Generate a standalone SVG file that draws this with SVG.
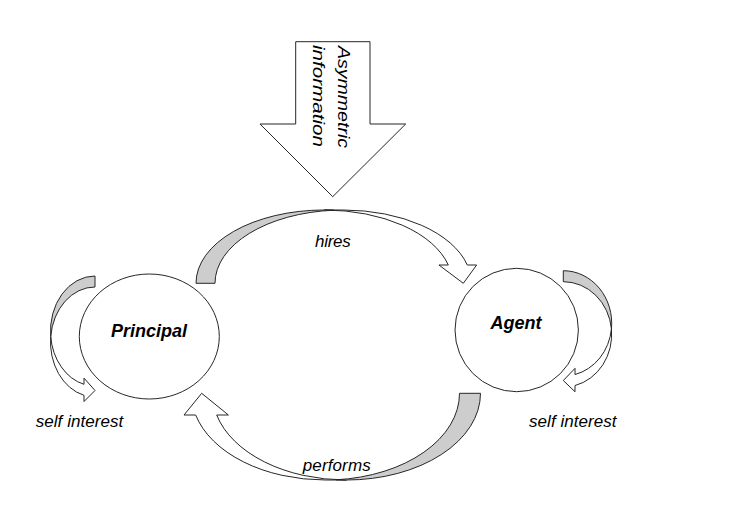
<svg xmlns="http://www.w3.org/2000/svg" width="743" height="518" viewBox="0 0 743 518">
<style>
.sh{stroke:#262626;stroke-width:1;stroke-linejoin:miter}
.w{fill:#ffffff}
.g{fill:#cdcdcd}
.lbl{font-family:"Liberation Sans",Arial,sans-serif;font-style:italic;font-size:17px;fill:#000}
.node{font-family:"Liberation Sans",Arial,sans-serif;font-style:italic;font-weight:bold;font-size:18px;fill:#000}
</style>
<rect width="743" height="518" fill="#ffffff"/>
<g id="asymmetric-information">
<path class="sh w" d="M295.7,41.7 L370,41.7 L370,124 L405.7,124 L332.7,196.7 L260,124 L295.7,124 Z"/>
<text class="lbl" font-size="20" transform="translate(338,46) rotate(90)" textLength="102" lengthAdjust="spacingAndGlyphs">Asymmetric</text>
<text class="lbl" font-size="20" transform="translate(313,45) rotate(90)" textLength="102" lengthAdjust="spacingAndGlyphs">information</text>
</g>
<g id="principal">
<ellipse class="sh w" cx="149.3" cy="336.5" rx="70" ry="62.5"/>
<text class="node" x="149" y="336.7" text-anchor="middle">Principal</text>
</g>
<g id="agent">
<circle class="sh w" cx="516.7" cy="330" r="61.7"/>
<text class="node" x="516" y="329" text-anchor="middle">Agent</text>
</g>
<g id="connectors">
<g id="hires">
<path class="sh w" d="M324.2,210 L343.2,210 A128.2,73.3 0 0 1 467.3,265 L476.65,265 L463.3,283.3 L438.95,265 L448.3,265 A128.2,73.3 0 0 0 324.2,210 Z"/>
<path class="sh g" d="M196,283.3 A128.2,73.3 0 0 1 324.2,210 L333.7,210.2 A128.2,73.3 0 0 0 215,283.3 Z"/>
<text class="lbl" x="315" y="247.3" textLength="35.7">hires</text>
</g>
<g id="performs">
<path class="sh w" d="M346.47,480 L325.47,480 A134.03,86.7 0 0 1 195.7,415 L184,415 L201.7,393.3 L228.4,415 L216.7,415 A134.03,86.7 0 0 0 346.47,480 Z"/>
<path class="sh g" d="M480.5,393.3 A134.03,86.7 0 0 1 346.47,480 L335.97,479.8 A134.03,86.7 0 0 0 459.5,393.3 Z"/>
<text class="lbl" x="302.7" y="470.7" textLength="68">performs</text>
</g>
<g id="self-interest-principal">
<path class="sh w" d="M50.72,336.5 A44.5,55 0 0 0 84,395.3 L84,401.5 L95,390.5 L84,378.1 L84,384.3 A44.5,55 0 0 1 50.72,336.5 Z"/>
<path class="sh g" d="M95,276 A44.5,55 0 0 0 50.72,336.5 A44.5,55 0 0 1 95,287 Z"/>
<text class="lbl" x="35.7" y="426.7" textLength="87.6">self interest</text>
</g>
<g id="self-interest-agent">
<path class="sh w" d="M611.44,328.9 A48.4,52.7 0 0 1 575,385.54 L575,391.74 L563.3,380.5 L575,368.34 L575,374.54 A48.4,52.7 0 0 0 611.44,328.9 Z"/>
<path class="sh g" d="M563.3,270.7 A48.4,52.7 0 0 1 611.44,328.9 A48.4,52.7 0 0 0 563.3,281.7 Z"/>
<text class="lbl" x="529" y="426.7" textLength="87.6">self interest</text>
</g>
</g>
</svg>
